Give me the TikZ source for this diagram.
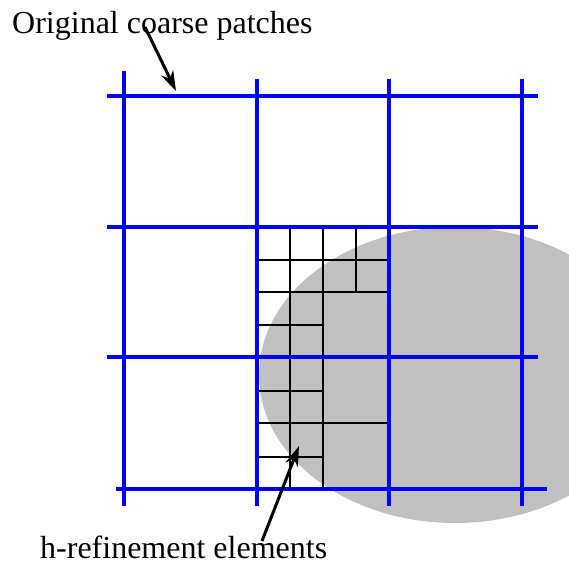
\documentclass[tikz,border=0pt]{standalone}
\usepackage{fontspec}
\setmainfont{Liberation Serif}
\usetikzlibrary{arrows.meta}
\definecolor{ellgray}{RGB}{192,192,192}
\definecolor{patchblue}{RGB}{0,0,255}
\tikzset{
  coarse/.style={draw=patchblue,line width=4pt},
  fine/.style={draw=black,line width=2.5pt},
  pointer/.style={draw=black,line width=3pt,-{Stealth[length=20pt,width=13pt,inset=6pt]}},
  label/.style={inner sep=0pt,anchor=base west,font=\fontsize{32}{38}\selectfont}
}
\begin{document}
\begin{tikzpicture}[x=1pt,y=-1pt]
\useasboundingbox (0,0) rectangle (569,565);
% shaded region
\fill[ellgray] (455,375) ellipse [x radius=196, y radius=148];
% fine (h-refined) elements
\draw[fine] (290,227) -- (290,489);
\draw[fine] (323,227) -- (323,489);
\draw[fine] (356,227) -- (356,292);
\draw[fine] (257,260) -- (389,260);
\draw[fine] (257,292) -- (389,292);
\draw[fine] (257,325) -- (323,325);
\draw[fine] (257,391) -- (323,391);
\draw[fine] (257,423) -- (389,423);
\draw[fine] (257,457) -- (323,457);
% coarse patches
\draw[coarse] (107,96) -- (538,96);
\draw[coarse] (107,227) -- (538,227);
\draw[coarse] (107,357) -- (538,357);
\draw[coarse] (116,489) -- (547,489);
\draw[coarse] (124,71) -- (124,506);
\draw[coarse] (257,79) -- (257,506);
\draw[coarse] (389,79) -- (389,506);
\draw[coarse] (522,79) -- (522,506);
% labels
\node[label] (top) at (12,33) {Original coarse patches};
\node[label] (bot) at (40,558) {h-refinement elements};
\coordinate (topfrom) at (145,27);
\coordinate (topto) at (176,91);
\coordinate (botfrom) at (262,541);
\coordinate (botto) at (299,446);
\draw[pointer] (topfrom) -- (topto);
\draw[pointer] (botfrom) -- (botto);
\end{tikzpicture}
\end{document}
